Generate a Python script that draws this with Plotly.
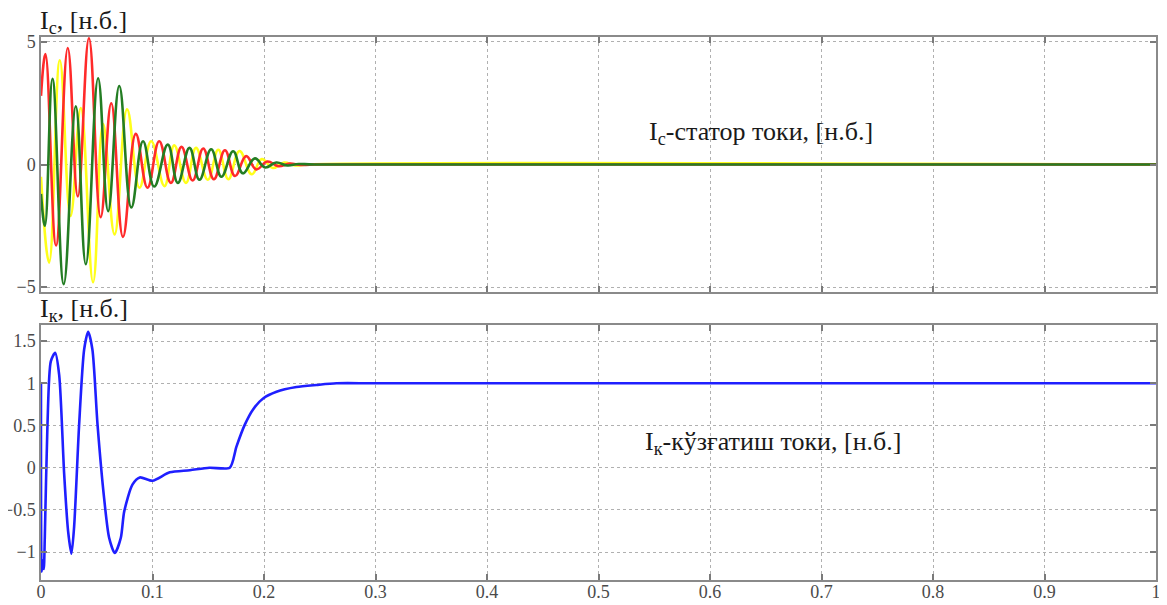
import plotly.graph_objects as go

# ---- data ----
red_t = [0.0, 0.004, 0.0135, 0.024, 0.033, 0.043, 0.0535, 0.063, 0.0735, 0.085, 0.0955,
         0.106, 0.1165, 0.126, 0.136, 0.1455, 0.155, 0.165, 0.174, 0.184, 0.193, 0.203,
         0.213, 0.223, 0.233, 0.245, 1.0]
red_v = [2.8, 4.5, -3.3, 4.75, -1.3, 5.15, -2.15, 2.5, -2.95, 1.25, -0.95,
         0.95, -0.75, 0.72, -0.65, 0.65, -0.6, 0.58, -0.47, 0.34, -0.2, 0.12,
         -0.07, 0.04, -0.02, 0.0, 0.0]

green_t = [0.0, 0.0035, 0.0103, 0.0204, 0.0312, 0.0402, 0.0512, 0.0602, 0.0702, 0.081,
           0.0915, 0.1015, 0.1137, 0.1227, 0.1332, 0.1421, 0.1526, 0.1618, 0.1723, 0.181,
           0.1918, 0.201, 0.211, 0.221, 0.231, 0.245, 1.0]
green_v = [-1.2, -2.5, 3.5, -4.88, 2.37, -4.07, 3.52, -1.9, 3.2, -1.75,
           0.95, -0.9, 0.81, -0.75, 0.68, -0.62, 0.62, -0.5, 0.54, -0.36,
           0.25, -0.12, 0.08, -0.04, 0.02, 0.0, 0.0]

yellow_t = [0.0, 0.0073, 0.0169, 0.0265, 0.0357, 0.0467, 0.0557, 0.066, 0.0772, 0.0883,
            0.0988, 0.1107, 0.1195, 0.130, 0.139, 0.1496, 0.159, 0.168, 0.178, 0.189,
            0.198, 0.208, 0.218, 0.228, 0.24, 1.0]
yellow_v = [-0.5, -4.0, 4.25, -2.1, 2.3, -4.8, 1.65, -2.85, 2.25, -0.95,
            0.95, -0.88, 0.78, -0.75, 0.68, -0.62, 0.6, -0.6, 0.55, -0.4,
            0.22, -0.14, 0.08, -0.04, 0.0, 0.0]

ik_t = [0.0, 0.0006, 0.0015, 0.0025, 0.0034, 0.0058, 0.0088, 0.0127, 0.0163, 0.0208,
        0.0243, 0.0273, 0.0297, 0.0342, 0.0387, 0.0423, 0.0461, 0.0507, 0.0566, 0.0611,
        0.0662, 0.0716, 0.0746, 0.082, 0.0886, 0.1, 0.1155, 0.1335, 0.151, 0.1693,
        0.1753, 0.1828, 0.1902, 0.1992, 0.2112, 0.2291, 0.2471, 0.265, 0.3, 1.0]
ik_v = [1.0, -1.23, -1.1, -1.2, -0.83, 0.51, 1.26, 1.36, 1.1, -0.08,
        -0.75, -1.02, -0.7, 0.51, 1.4, 1.61, 1.4, 0.51, -0.36, -0.83,
        -1.01, -0.83, -0.52, -0.2, -0.115, -0.154, -0.055, -0.03, 0.0, 0.0,
        0.25, 0.51, 0.69, 0.82, 0.9, 0.955, 0.98, 1.0, 1.0, 1.0]

x_ticks = [0, 0.1, 0.2, 0.3, 0.4, 0.5, 0.6, 0.7, 0.8, 0.9, 1]
top_yticks = [-5, 0, 5]
bot_yticks = [-1, -0.5, 0, 0.5, 1, 1.5]

FONT = "Liberation Serif"

fig = go.Figure()
fig.add_trace(go.Scatter(x=yellow_t, y=yellow_v, mode="lines", line=dict(color="#ffff1a", width=2.6, shape="spline", smoothing=1.2), xaxis="x", yaxis="y", showlegend=False))
fig.add_trace(go.Scatter(x=red_t, y=red_v, mode="lines", line=dict(color="#ff2a2a", width=2.6, shape="spline", smoothing=1.2), xaxis="x", yaxis="y", showlegend=False))
fig.add_trace(go.Scatter(x=green_t, y=green_v, mode="lines", line=dict(color="#237d23", width=2.6, shape="spline", smoothing=1.2), xaxis="x", yaxis="y", showlegend=False))
fig.add_trace(go.Scatter(x=ik_t, y=ik_v, mode="lines", line=dict(color="#1f1fff", width=2.6, shape="spline", smoothing=0.7), xaxis="x2", yaxis="y2", showlegend=False))

axis_common = dict(
    ticks="inside", ticklen=6, tickwidth=1.5, tickcolor="#7a7a7a",
    showline=True, linecolor="#8a8a8a", linewidth=1.5, mirror="ticks",
    showgrid=True, gridcolor="#b0b0b0", griddash="dot", gridwidth=1,
    zeroline=False, automargin=False,
    tickfont=dict(family=FONT, size=18, color="#4a4a4a"),
)

# page body has an 8px margin: work in reference pixels shifted by it
OFF = 8
W, H = 1167 - OFF, 605 - OFF


def px(x):
    return (x - OFF) / W


def py(y):
    return 1 - (y - OFF) / H


fig.update_layout(
    width=W, height=H, margin=dict(l=0, r=0, t=0, b=0, autoexpand=False),
    paper_bgcolor="white", plot_bgcolor="white",
    xaxis=dict(domain=[px(41), px(1156)], range=[0, 1], tickvals=x_ticks, showticklabels=False, anchor="y", **axis_common),
    yaxis=dict(domain=[py(292), py(37)], range=[-5.2, 5.2], tickvals=top_yticks, anchor="x", **axis_common),
    xaxis2=dict(domain=[px(41), px(1156)], range=[0, 1], tickvals=x_ticks, anchor="y2",
                ticklabelstandoff=-5, **axis_common),
    yaxis2=dict(domain=[py(580), py(325)], range=[-1.33, 1.69], tickvals=bot_yticks, anchor="x2", **axis_common),
)

ann_font = dict(family=FONT, size=26, color="#1a1a1a")
fig.add_annotation(x=px(38), y=py(22), xref="paper", yref="paper", xanchor="left", yanchor="middle",
                   text="I<sub>с</sub>, [н.б.]", showarrow=False, font=ann_font)
fig.add_annotation(x=px(38), y=py(310), xref="paper", yref="paper", xanchor="left", yanchor="middle",
                   text="I<sub>к</sub>, [н.б.]", showarrow=False, font=ann_font)
fig.add_annotation(x=px(761), y=py(133), xref="paper", yref="paper", xanchor="center", yanchor="middle",
                   text="I<sub>с</sub>-статор токи, [н.б.]", showarrow=False, font=ann_font)
fig.add_annotation(x=px(773), y=py(443), xref="paper", yref="paper", xanchor="center", yanchor="middle",
                   text="I<sub>к</sub>-кўзғатиш токи, [н.б.]", showarrow=False, font=ann_font)

fig.write_html("out.html")
